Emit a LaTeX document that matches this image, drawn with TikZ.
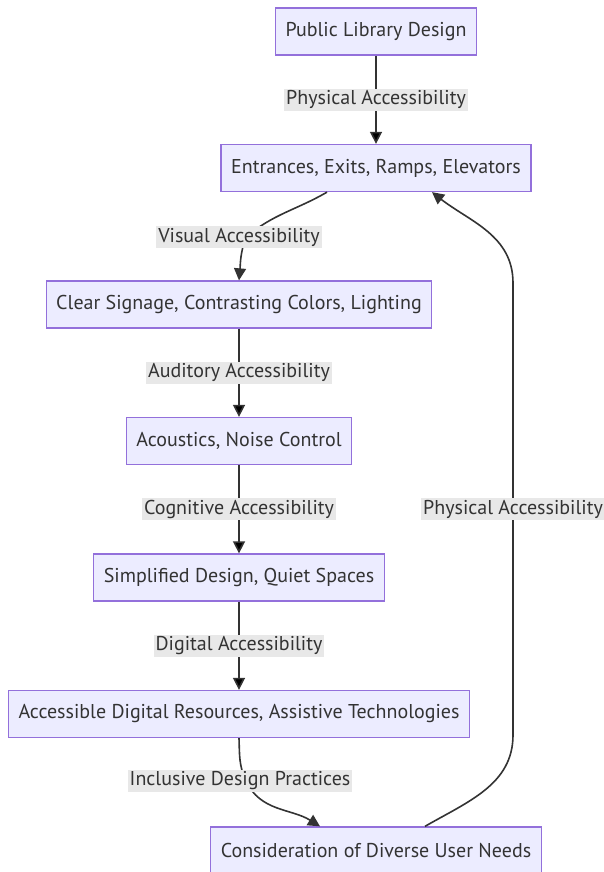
\documentclass[tikz,border=0pt]{standalone}
\usepackage{fontspec}
\setmainfont{PT Sans}
\usetikzlibrary{arrows.meta, positioning}
\definecolor{boxfill}{HTML}{ECECFF}
\definecolor{boxline}{HTML}{9370DB}
\definecolor{ink}{HTML}{333333}
\definecolor{lblfill}{HTML}{E8E8E8}
\tikzset{x = 1pt, y = 1pt,
         node distance = 136.5pt, on grid,
         >= {Triangle[length = 12pt, width = 12pt]},
         box/.style = {draw = boxline, fill = boxfill, line width = 1.3pt,
                       minimum height = 47pt, inner xsep = 10pt,
                       text = ink, font = \fontsize{20}{24}\selectfont},
         lbl/.style = {fill = lblfill, inner xsep = 2pt, inner ysep = 2pt,
                       text = ink, font = \fontsize{20}{24}\selectfont},
         flow/.style = {->, draw = ink, line width = 1.6pt}}

\begin{document}
\begin{tikzpicture}
  \useasboundingbox (0,0) rectangle (603,-872);

  \node[box] (pub) at (376,-31.5)                    {Public Library Design};
  \node[box] (ent) [below = of pub]                  {Entrances, Exits, Ramps, Elevators};
  \node[box] (sig) [below left = 136.5pt and 137pt of ent] {Clear Signage, Contrasting Colors, Lighting};
  \node[box] (aco) [below = of sig]                  {Acoustics, Noise Control};
  \node[box] (sim) [below = of aco]                  {Simplified Design, Quiet Spaces};
  \node[box] (dig) [below = of sim]                  {Accessible Digital Resources, Assistive Technologies};
  \node[box] (usr) [below right = 136.5pt and 137pt of dig] {Consideration of Diverse User Needs};

  % bend points of the curved connectors
  \coordinate (vis) at (246,-237);
  \coordinate (inc) at (246,-781);
  \coordinate (rb)  at (513,-735);
  \coordinate (rt)  at (513,-283);

  \path[flow] (pub) edge node[lbl] {Physical Accessibility}  (ent);
  \draw[flow] ([xshift = -49pt]ent.south) to[out = -150, in = 40] (vis)
              node[lbl, xshift = -7pt] {Visual Accessibility}
              to[out = -110, in = 85] (sig.north);
  \path[flow] (sig) edge node[lbl] {Auditory Accessibility}  (aco);
  \path[flow] (aco) edge node[lbl] {Cognitive Accessibility} (sim);
  \path[flow] (sim) edge node[lbl] {Digital Accessibility}   (dig);
  \draw[flow] (dig.south) to[out = -88, in = 115] (inc)
              node[lbl, xshift = -6pt] {Inclusive Design Practices}
              to[out = -65, in = 148] ([xshift = -56pt]usr.north);
  \draw[flow] ([xshift = 49pt]usr.north) to[out = 30, in = -90] (rb)
              -- node[lbl] {Physical Accessibility} (rt)
              to[out = 90, in = -38] ([xshift = 56pt]ent.south);
\end{tikzpicture}
\end{document}
